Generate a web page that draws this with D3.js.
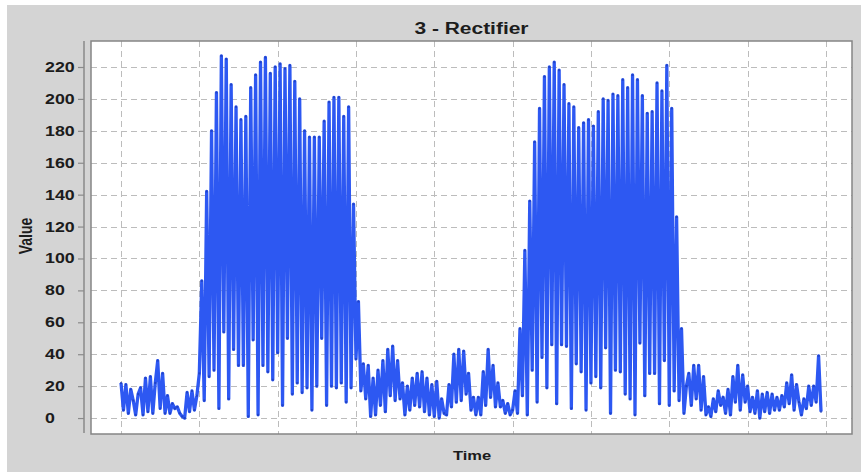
<!DOCTYPE html>
<html>
<head>
<meta charset="utf-8">
<script src="https://cdn.jsdelivr.net/npm/d3@7"></script>
<style>
  html, body { margin: 0; padding: 0; background: #ffffff; }
  svg { display: block; }
  text { font-family: "Liberation Sans", Arial, sans-serif; font-weight: bold; fill: #1c1c1c; }
</style>
</head>
<body>
<svg id="chart" width="861" height="475"></svg>
<script>
// Rectifier readings, 32 samples per day, split into the quiet and busy stretches.
const quietStart = [22,5,21,3,18,11,2,15,19,2,25,4,26,3,22,36,6,28,3,14,3,9,6,7,3,1,0,16,4,17,5,14,28];
const firstBurst = [86,11,142,26,180,30,204,6,227,54,225,12,209,43,195,33,187,33,189,1,207,49,215,2,223,33,226,29,216,24,
                    220,41,222,8,219,50,221,15,211,22,200,16,180,19,176,5,176,20,176,50,186,8,198,20,201,19,201,22,189,10,
                    195,19,134,37];
const quietMiddle = [73,17,34,12,33,1,25,2,30,8,36,4,43,14,45,11,36,12,22,2,20,5,25,8,28,7,29,4,25,2,
                     21,1,23,0,12,3,2,21,7,40,10,43,11,42,15,28,5,13,2,13,2,29,8,43,13,33,7,22,7,11,
                     3,9,2,5];
const secondBurst = [17,3,56,14,105,2,136,30,173,10,194,38,214,19,220,46,223,9,218,46,209,45,197,6,195,34,182,29,185,5,
                     187,22,183,26,192,19,200,44,199,3,203,30,202,29,212,15,207,12,215,2,212,47,202,14,191,28,192,28,
                     210,9,205,36,221,8,194,17,126,11,56,3];
const quietEnd = [20,28,8,33,12,33,5,26,2,7,1,12,4,17,8,13,3,18,2,26,10,33,5,27,10,20,4,13,3,17,
                  0,15,4,16,3,15,5,13,5,14,7,22,9,27,5,21,10,2,12,6,20,8,20,10,39,4];

const samplesPerDay = 32;
const dayTicks = [0,1,2,3,4,5,6,7,8,9];
const valueTicks = [0,20,40,60,80,100,120,140,160,180,200,220];

const chartTitle = "3 - Rectifier";
const xTitle = "Time";
const yTitle = "Value";

const values = [].concat(quietStart, firstBurst, quietMiddle, secondBurst, quietEnd);
const series = values.map((v, i) => ({ t: i / samplesPerDay, v }));

const W = 861, H = 475;
const plot = { left: 91, right: 852, top: 41, bottom: 434 };
const stretch = 1.27; // wide lettering used throughout the chart

const svg = d3.select("#chart");

// panel background
svg.append("rect").attr("x", 0).attr("y", 0).attr("width", W).attr("height", H).attr("fill", "#ffffff");
svg.append("rect").attr("x", 7).attr("y", 5).attr("width", W - 7).attr("height", 467).attr("fill", "#d4d4d4");

const x = d3.scaleLinear().domain([-0.383, 9.333]).range([plot.left, plot.right]);
const y = d3.scaleLinear().domain([-10, 236.3]).range([plot.bottom, plot.top]);

// plot area
svg.append("rect")
  .attr("x", plot.left).attr("y", plot.top)
  .attr("width", plot.right - plot.left).attr("height", plot.bottom - plot.top)
  .attr("fill", "#ffffff");

// grid
const grid = svg.append("g").attr("stroke", "#bcbcbc").attr("stroke-width", 1).attr("stroke-dasharray", "6,4");
grid.selectAll("line.h").data(valueTicks).join("line")
  .attr("class", "h")
  .attr("x1", plot.left).attr("x2", plot.right)
  .attr("y1", d => Math.round(y(d)) + 0.5).attr("y2", d => Math.round(y(d)) + 0.5);
grid.selectAll("line.v").data(dayTicks).join("line")
  .attr("class", "v")
  .attr("y1", plot.top).attr("y2", plot.bottom)
  .attr("x1", d => Math.round(x(d)) + 0.5).attr("x2", d => Math.round(x(d)) + 0.5);

// series
const line = d3.line().x(d => x(d.t)).y(d => y(d.v));
svg.append("path")
  .datum(series)
  .attr("d", line)
  .attr("fill", "none")
  .attr("stroke", "#2d58f2")
  .attr("stroke-width", 3.3)
  .attr("stroke-linejoin", "round");

svg.append("g").attr("fill", "#1e3cb8").attr("fill-opacity", 0.75)
  .selectAll("rect").data(series).join("rect")
  .attr("x", d => x(d.t) - 1).attr("y", d => y(d.v) - 1)
  .attr("width", 2).attr("height", 2);

// plot border
svg.append("rect")
  .attr("x", plot.left).attr("y", plot.top)
  .attr("width", plot.right - plot.left).attr("height", plot.bottom - plot.top)
  .attr("fill", "none").attr("stroke", "#858585").attr("stroke-width", 1.5);

// value axis, set slightly apart from the plot
const axisX = 84;
const yAxis = d3.axisLeft(y).tickValues(valueTicks).tickSize(6).tickFormat("");
const ya = svg.append("g").attr("transform", `translate(${axisX},0)`).call(yAxis);
ya.select(".domain").attr("d", `M0,${plot.top}V${plot.bottom - 1}`).attr("stroke", "#8a8a8a").attr("stroke-width", 1.5);
ya.selectAll(".tick line").attr("stroke", "#8a8a8a").attr("stroke-width", 1.2);

svg.append("g").selectAll("text").data(valueTicks).join("text")
  .attr("transform", d => `translate(45,${y(d) + 5}) scale(${stretch},1)`)
  .attr("text-anchor", "start")
  .attr("font-size", 14)
  .text(d => d);

// titles
svg.append("text")
  .attr("transform", `translate(${(plot.left + plot.right) / 2},34) scale(${stretch + 0.04},1)`)
  .attr("text-anchor", "middle").attr("font-size", 16)
  .text(chartTitle);

svg.append("text")
  .attr("transform", `translate(472,460) scale(${stretch},1)`)
  .attr("text-anchor", "middle").attr("font-size", 13)
  .text(xTitle);

svg.append("text")
  .attr("transform", `translate(32,236) rotate(-90) scale(1,${stretch})`)
  .attr("text-anchor", "middle").attr("font-size", 14)
  .text(yTitle);
</script>
</body>
</html>
